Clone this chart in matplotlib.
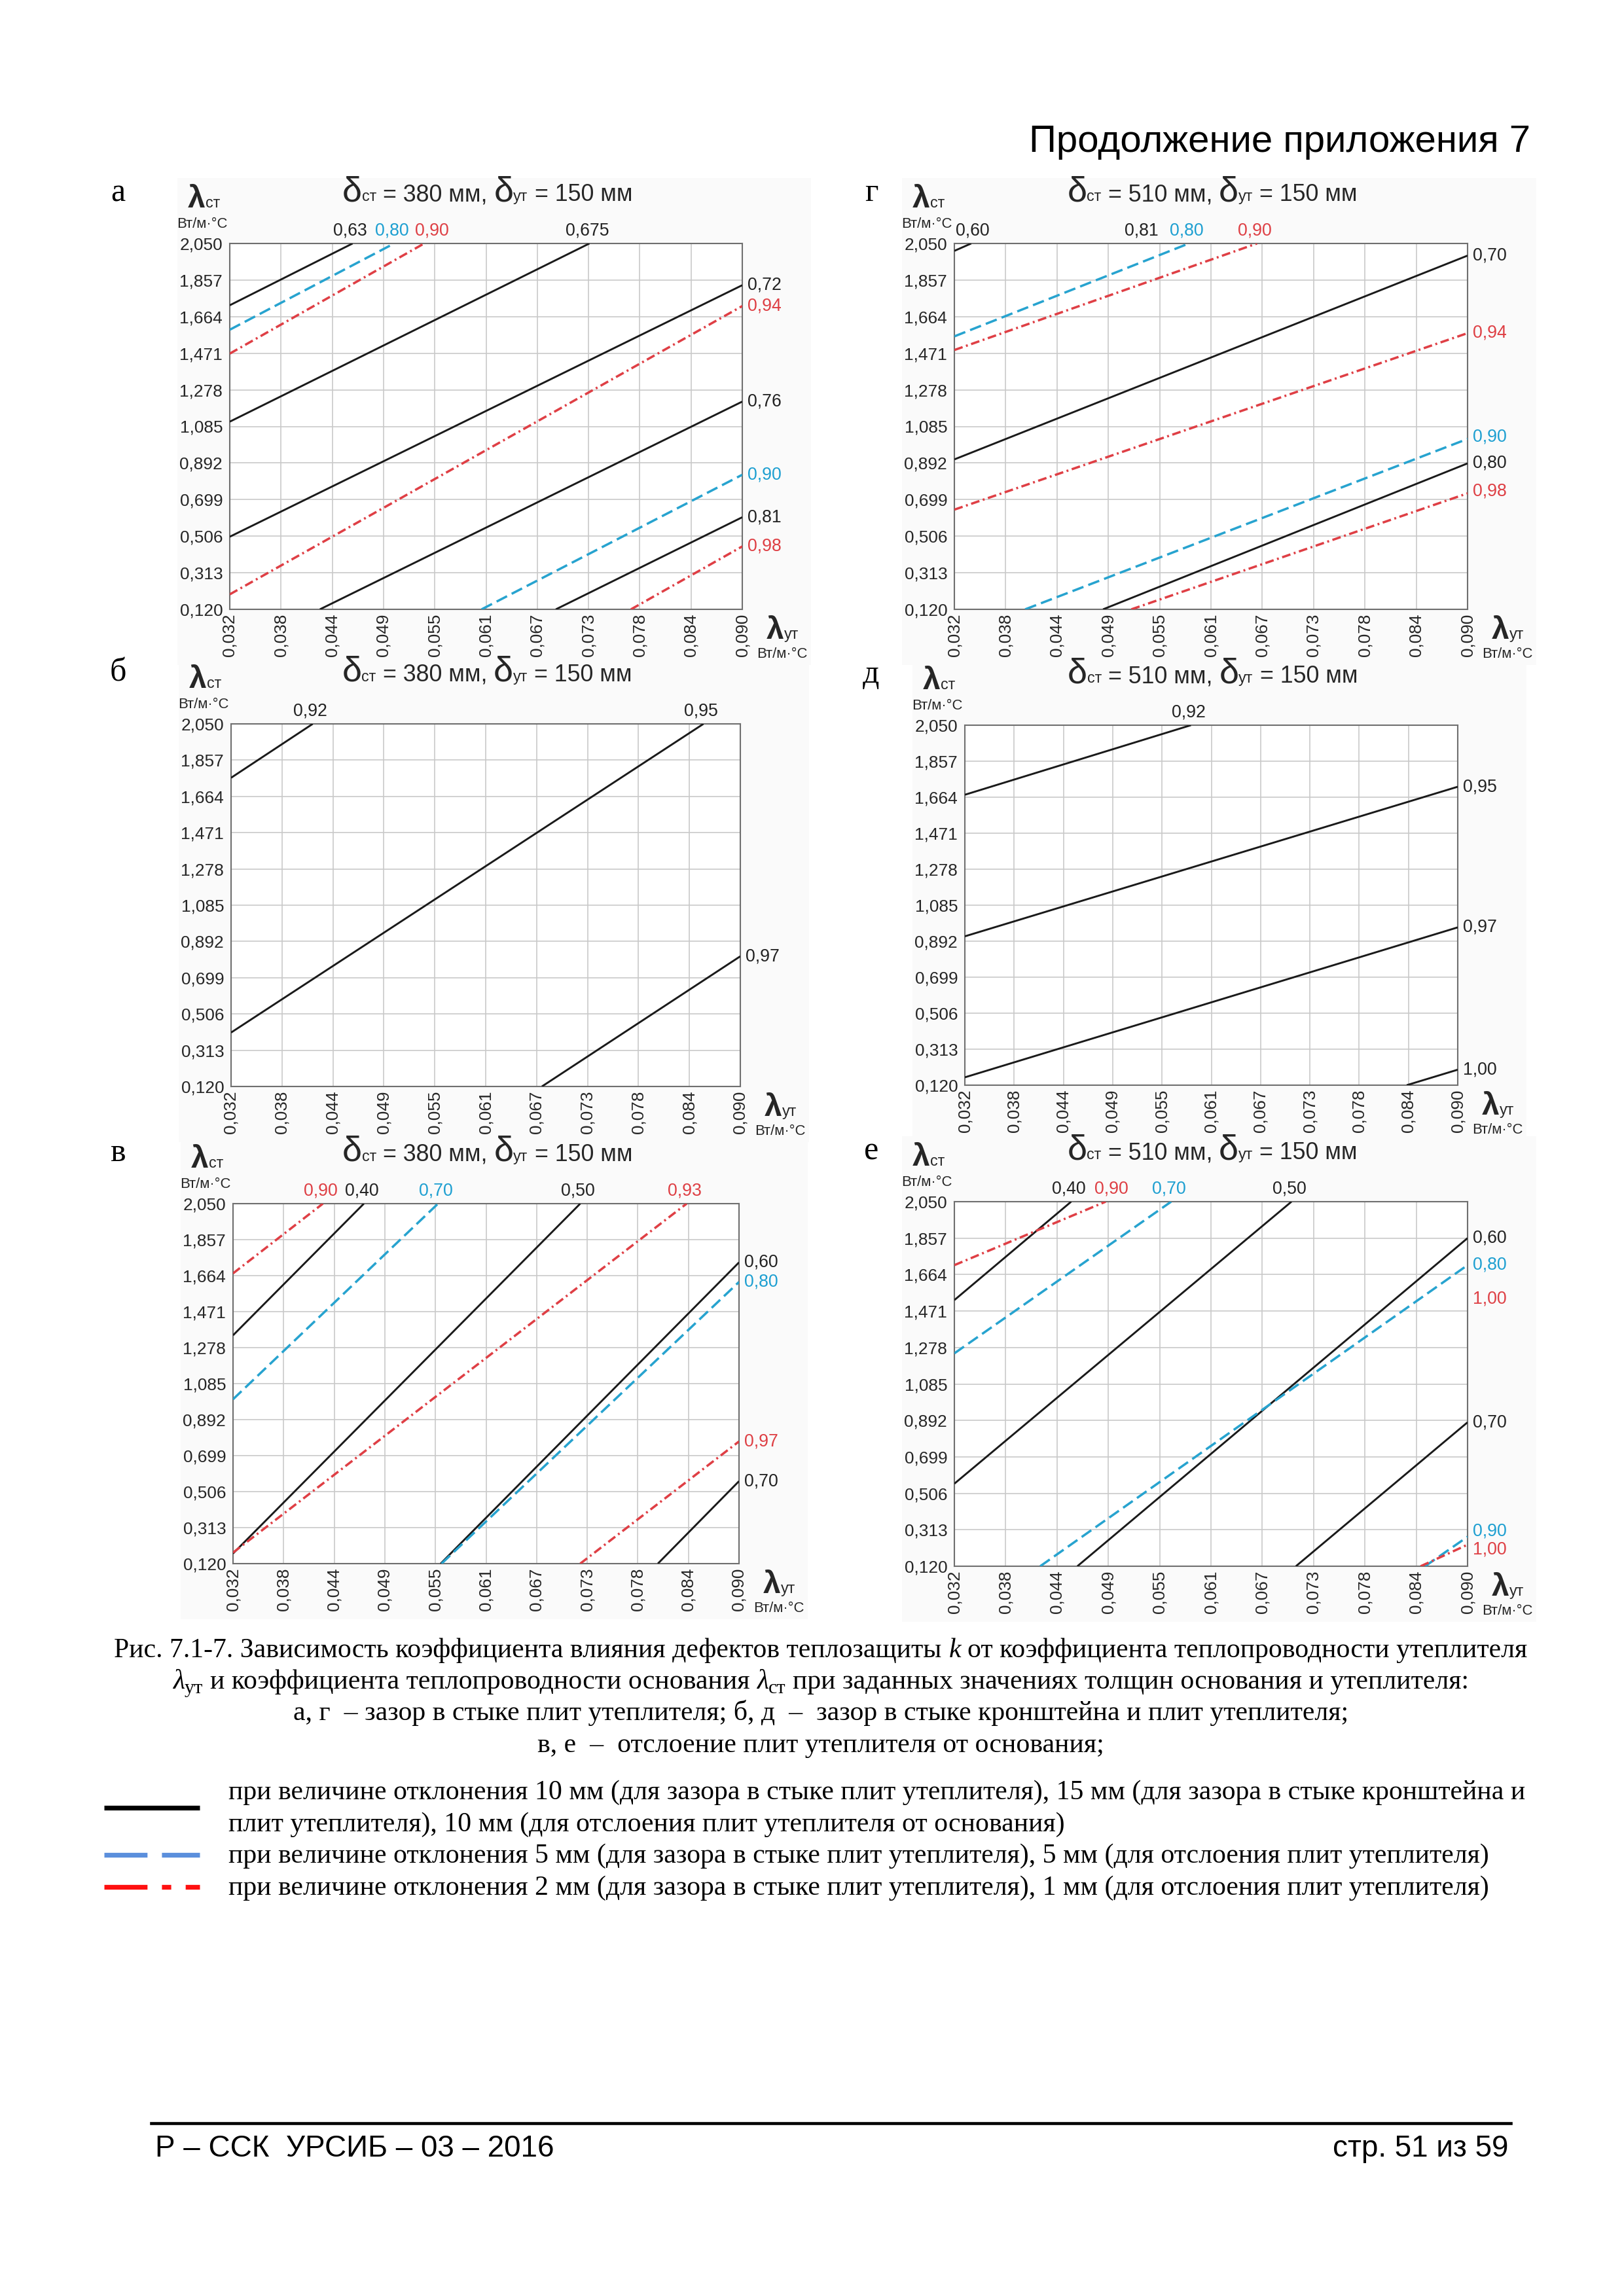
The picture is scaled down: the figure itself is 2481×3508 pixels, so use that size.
import numpy as np
import matplotlib
matplotlib.use('Agg')
import matplotlib.pyplot as plt
from matplotlib.lines import Line2D
from matplotlib.patches import Rectangle

W, H, DPI = 2481, 3508, 300
SANS = 'Liberation Sans'
SERIF = 'Liberation Serif'
plt.rcParams['lines.scale_dashes'] = False

# ---------------- data ----------------
X_TICK_LABELS = ['0,032', '0,038', '0,044', '0,049', '0,055', '0,061',
                 '0,067', '0,073', '0,078', '0,084', '0,090']
Y_TICK_LABELS = ['0,120', '0,313', '0,506', '0,699', '0,892', '1,085',
                 '1,278', '1,471', '1,664', '1,857', '2,050']
X_MIN, X_MAX = 0.032, 0.090
Y_MIN, Y_MAX = 0.120, 2.050

# series codes: 'k' = 10/15 mm, 'b' = 5 mm, 'r' = 2/1 mm
# panel а
A_TEXT = ['0,63', '0,80', '0,90', '0,675', '0,72', '0,94', '0,76', '0,90', '0,81', '0,98']
A_SER = ['k', 'b', 'r', 'k', 'k', 'r', 'k', 'b', 'k', 'r']
A_X0 = [0.032, 0.032, 0.032, 0.032, 0.032, 0.032, 0.0422, 0.0605, 0.0689, 0.0774]
A_Y0 = [1.724, 1.595, 1.469, 1.110, 0.503, 0.199, 0.120, 0.120, 0.120, 0.120]
A_X1 = [0.0459, 0.0506, 0.0540, 0.0727, 0.090, 0.090, 0.090, 0.090, 0.090, 0.090]
A_Y1 = [2.050, 2.050, 2.050, 2.050, 1.830, 1.720, 1.216, 0.830, 0.606, 0.452]
A_EXTRA = []

# panel г
G_TEXT = ['0,60', '0,80', '0,90', '0,70', '0,94', '0,90', '0,80', '0,98']
G_SER = ['k', 'b', 'r', 'k', 'r', 'b', 'k', 'r']
G_X0 = [0.032, 0.032, 0.032, 0.032, 0.032, 0.0400, 0.0488, 0.0520]
G_Y0 = [2.011, 1.560, 1.488, 0.911, 0.646, 0.120, 0.120, 0.120]
G_X1 = [0.0339, 0.0585, 0.0662, 0.090, 0.090, 0.090, 0.090, 0.090]
G_Y1 = [2.050, 2.050, 2.050, 1.986, 1.577, 1.019, 0.890, 0.732]
G_EXTRA = [('0,81', 'k', 'top', 0.0534)]

# panel б
B_TEXT = ['0,92', '0,95', '0,97']
B_SER = ['k', 'k', 'k']
B_X0 = [0.032, 0.032, 0.0674]
B_Y0 = [1.763, 0.407, 0.120]
B_X1 = [0.0413, 0.0858, 0.090]
B_Y1 = [2.050, 2.050, 0.813]
B_EXTRA = []

# panel д
D_TEXT = ['0,92', '0,95', '0,97', '1,00']
D_SER = ['k', 'k', 'k', 'k']
D_X0 = [0.032, 0.032, 0.032, 0.0840]
D_Y0 = [1.677, 0.918, 0.162, 0.120]
D_X1 = [0.0586, 0.090, 0.090, 0.090]
D_Y1 = [2.050, 1.720, 0.966, 0.203]
D_EXTRA = []

# panel в
V_TEXT = ['0,90', '0,40', '0,70', '0,50', '0,93', '0,60', '0,80', '0,97', '0,70']
V_SER = ['r', 'k', 'b', 'k', 'r', 'k', 'b', 'r', 'k']
V_X0 = [0.032, 0.032, 0.032, 0.032, 0.032, 0.0558, 0.0559, 0.0718, 0.0807]
V_Y0 = [1.676, 1.344, 1.001, 0.174, 0.179, 0.120, 0.120, 0.120, 0.120]
V_X1 = [0.0423, 0.0470, 0.0555, 0.0718, 0.0840, 0.090, 0.090, 0.090, 0.090]
V_Y1 = [2.050, 2.050, 2.050, 2.050, 2.050, 1.735, 1.630, 0.775, 0.562]
V_EXTRA = []

# panel е
E_TEXT = ['0,40', '0,90', '0,70', '0,50', '0,60', '0,80', '0,70', '0,90', '1,00']
E_SER = ['k', 'r', 'b', 'k', 'k', 'b', 'k', 'b', 'r']
E_X0 = [0.032, 0.032, 0.032, 0.032, 0.0459, 0.0417, 0.0706, 0.0852, 0.0847]
E_Y0 = [1.529, 1.714, 1.247, 0.557, 0.120, 0.120, 0.120, 0.120, 0.120]
E_X1 = [0.0452, 0.0491, 0.0565, 0.0701, 0.090, 0.090, 0.090, 0.090, 0.090]
E_Y1 = [2.050, 2.050, 2.050, 2.050, 1.857, 1.714, 0.882, 0.276, 0.234]
E_EXTRA = [('1,00', 'r', 'right', 1.537)]

# ---------------- styles / layout ----------------
LINE_STYLE = {
    'k': dict(color='#1a1a1a', lw=0.7, dashes=None),
    'b': dict(color='#27a3cf', lw=0.85, dashes=(4.3, 1.9)),
    'r': dict(color='#df3f45', lw=0.85, dashes=(3.2, 1.3, 0.7, 1.3)),
}
LABEL_COLOR = {'k': '#222222', 'b': '#1d9fd1', 'r': '#de3f44'}

PANELS = [
    dict(letter='а', dst='380', rect=(351, 372, 1134, 931),
         text=A_TEXT, ser=A_SER, x0=A_X0, y0=A_Y0, x1=A_X1, y1=A_Y1, extra=A_EXTRA,
         nudge={2: (3.7, 0)}),
    dict(letter='г', dst='510', rect=(1458, 372, 2242, 931),
         text=G_TEXT, ser=G_SER, x0=G_X0, y0=G_Y0, x1=G_X1, y1=G_Y1, extra=G_EXTRA,
         nudge={0: (1.3, 0), 5: (0, 0.8), 7: (0, 0.8)}),
    dict(letter='б', dst='380', rect=(353, 1106, 1131, 1660),
         text=B_TEXT, ser=B_SER, x0=B_X0, y0=B_Y0, x1=B_X1, y1=B_Y1, extra=B_EXTRA,
         nudge={}),
    dict(letter='д', dst='510', rect=(1474, 1108, 2227, 1658),
         text=D_TEXT, ser=D_SER, x0=D_X0, y0=D_Y0, x1=D_X1, y1=D_Y1, extra=D_EXTRA,
         nudge={}),
    dict(letter='в', dst='380', rect=(356, 1839, 1129, 2389),
         text=V_TEXT, ser=V_SER, x0=V_X0, y0=V_Y0, x1=V_X1, y1=V_Y1, extra=V_EXTRA,
         nudge={}),
    dict(letter='е', dst='510', rect=(1458, 1836, 2242, 2393),
         text=E_TEXT, ser=E_SER, x0=E_X0, y0=E_Y0, x1=E_X1, y1=E_Y1, extra=E_EXTRA,
         nudge={1: (3.0, 0), 7: (0, 2.0), 8: (0, -1.7)}),
]

fig = plt.figure(figsize=(W / DPI, H / DPI), dpi=DPI)
fig.patch.set_facecolor('white')
renderer = fig.canvas.get_renderer()


def fx(x):
    return x / W


def fy(y):
    return 1 - y / H


def tw(s, size, family=SANS, style='normal', weight='normal'):
    a = fig.text(0, 0, '|' + s + '|', fontsize=size, family=family, style=style, weight=weight)
    b = fig.text(0, 0, '||', fontsize=size, family=family, style=style, weight=weight)
    w = a.get_window_extent(renderer).width - b.get_window_extent(renderer).width
    a.remove()
    b.remove()
    return w


def draw_runs(x, y, parts, ha='left'):
    """parts: (text, size, dy_px, family, style, color[, weight]); y = baseline px from top."""
    parts = [p if len(p) == 7 else tuple(p) + ('normal',) for p in parts]
    ws = [tw(p[0], p[1], p[3], p[4], p[6]) for p in parts]
    total = sum(ws)
    cur = x - {'left': 0, 'center': total / 2, 'right': total}[ha]
    for p, w in zip(parts, ws):
        s, size, dy, fam, sty, col, wt = p
        st = s.lstrip(' ')
        lead = len(s) - len(st)
        off = tw(' ' * lead, size, fam, sty, wt) if lead else 0
        if st.strip():
            fig.text(fx(cur + off), fy(y + dy), st, fontsize=size, family=fam,
                     style=sty, weight=wt, color=col, ha='left', va='baseline')
        cur += w
    return total


TICK_FS = 6.3
LAB_FS = 6.4
X_POS = np.linspace(X_MIN, X_MAX, len(X_TICK_LABELS))
Y_POS = np.linspace(Y_MIN, Y_MAX, len(Y_TICK_LABELS))
TXT = '#262626'

for P in PANELS:
    L, T, R, B = P['rect']
    # faint background of the pasted chart image
    fig.add_artist(Rectangle((fx(L - 80), fy(B + 85)), (R - L + 185) / W, (B - T + 185) / H,
                             transform=fig.transFigure, facecolor='#fafafa',
                             edgecolor='none', zorder=-5))
    ax = fig.add_axes([fx(L), fy(B), (R - L) / W, (B - T) / H])
    ax.set_facecolor('white')
    ax.set_xlim(X_MIN, X_MAX)
    ax.set_ylim(Y_MIN, Y_MAX)
    ax.set_xticks(X_POS)
    ax.set_xticklabels(X_TICK_LABELS, rotation=90, fontsize=TICK_FS, family=SANS, color=TXT)
    ax.set_yticks(Y_POS)
    ax.set_yticklabels(Y_TICK_LABELS, fontsize=TICK_FS, family=SANS, color=TXT)
    ax.tick_params(axis='both', length=0)
    ax.tick_params(axis='x', pad=1.6)
    ax.tick_params(axis='y', pad=2.6)
    ax.grid(True, color='#c9c9c9', lw=0.4)
    ax.set_axisbelow(True)
    for sp in ax.spines.values():
        sp.set_color('#6f6f6f')
        sp.set_linewidth(0.5)

    for i, (txt, ser, x0, y0, x1, y1) in enumerate(zip(P['text'], P['ser'], P['x0'],
                                                      P['y0'], P['x1'], P['y1'])):
        st = LINE_STYLE[ser]
        ln, = ax.plot([x0, x1], [y0, y1], color=st['color'], lw=st['lw'],
                      solid_capstyle='butt', dash_capstyle='butt', zorder=3)
        if st['dashes'] is not None:
            ln.set_dashes(st['dashes'])
        dx, dy = P['nudge'].get(i, (0, 0))
        if y1 >= Y_MAX - 1e-9:
            ax.annotate(txt, xy=(x1, Y_MAX), xytext=(-0.8 + dx, 1.6 + dy),
                        textcoords='offset points', ha='center', va='bottom',
                        fontsize=LAB_FS, family=SANS, color=LABEL_COLOR[ser],
                        annotation_clip=False)
        else:
            ax.annotate(txt, xy=(X_MAX, y1), xytext=(1.9 + dx, dy),
                        textcoords='offset points', ha='left', va='center',
                        fontsize=LAB_FS, family=SANS, color=LABEL_COLOR[ser],
                        annotation_clip=False)
    for txt, ser, side, val in P['extra']:
        if side == 'top':
            ax.annotate(txt, xy=(val, Y_MAX), xytext=(-0.8, 1.6), textcoords='offset points',
                        ha='center', va='bottom', fontsize=LAB_FS, family=SANS,
                        color=LABEL_COLOR[ser], annotation_clip=False)
        else:
            ax.annotate(txt, xy=(X_MAX, val), xytext=(1.9, 0), textcoords='offset points',
                        ha='left', va='center', fontsize=LAB_FS, family=SANS,
                        color=LABEL_COLOR[ser], annotation_clip=False)

    # panel letter
    xl = 180 if L < 1000 else 1331
    fig.text(fx(xl), fy(T - 65), P['letter'], fontsize=12, family=SERIF,
             ha='center', va='baseline', color='black')
    # title
    draw_runs((L + R) / 2 + 2, T - 65, [
        ('δ', 13, 0, SANS, 'normal', TXT),
        ('ст', 5.6, 0, SANS, 'normal', TXT),
        (' = ' + P['dst'] + ' мм, ', 8.6, 0, SANS, 'normal', TXT),
        ('δ', 13, 0, SANS, 'normal', TXT),
        ('ут', 5.6, 0, SANS, 'normal', TXT),
        (' = 150 мм', 8.6, 0, SANS, 'normal', TXT),
    ], ha='center')
    # y axis label
    draw_runs(L - 64, T - 55, [('λ', 11.5, 0, SANS, 'normal', TXT, 'bold'),
                               ('ст', 5.6, 0, SANS, 'normal', TXT)])
    draw_runs(L - 42, T - 24, [('Вт/м·°С', 5.3, 0, SANS, 'normal', TXT)], ha='center')
    # x axis label
    draw_runs(R + 37, B + 45, [('λ', 11.5, 0, SANS, 'normal', TXT, 'bold'),
                               ('ут', 5.6, 0, SANS, 'normal', TXT)])
    draw_runs(R + 61, B + 74, [('Вт/м·°С', 5.3, 0, SANS, 'normal', TXT)], ha='center')

# ---------------- header ----------------
HEADER = 'Продолжение приложения 7'
hs = 10 * 766 / tw(HEADER, 10)
fig.text(fx(2338), fy(232), HEADER, fontsize=hs, family=SANS, ha='right', va='baseline')

# ---------------- caption ----------------
CAP1 = [('Рис. 7.1-7. Зависимость коэффициента влияния дефектов теплозащиты ', 'normal'),
        ('k', 'italic'),
        (' от коэффициента теплопроводности утеплителя', 'normal')]
w10 = sum(tw(s, 10, SERIF, st) for s, st in CAP1)
cs = 10 * 2158 / w10
CX = 1254
draw_runs(CX, 2532, [(s, cs, 0, SERIF, st, 'black') for s, st in CAP1], ha='center')
draw_runs(CX, 2580, [
    ('λ', cs, 0, SERIF, 'italic', 'black'),
    ('ут', cs * 0.72, 7, SERIF, 'normal', 'black'),
    (' и коэффициента теплопроводности основания ', cs, 0, SERIF, 'normal', 'black'),
    ('λ', cs, 0, SERIF, 'italic', 'black'),
    ('ст', cs * 0.72, 7, SERIF, 'normal', 'black'),
    (' при заданных значениях толщин основания и утеплителя:', cs, 0, SERIF, 'normal', 'black'),
], ha='center')
draw_runs(CX, 2628, [('а, г  – зазор в стыке плит утеплителя; б, д  –  зазор в стыке кронштейна и плит утеплителя;',
                      cs, 0, SERIF, 'normal', 'black')], ha='center')
draw_runs(CX, 2677, [('в, е  –  отслоение плит утеплителя от основания;', cs, 0, SERIF, 'normal', 'black')],
          ha='center')

# ---------------- legend ----------------
LEG_TEXT = [
    'при величине отклонения 10 мм (для зазора в стыке плит утеплителя), 15 мм (для зазора в стыке кронштейна и',
    'плит утеплителя), 10 мм (для отслоения плит утеплителя от основания)',
    'при величине отклонения 5 мм (для зазора в стыке плит утеплителя), 5 мм (для отслоения плит утеплителя)',
    'при величине отклонения 2 мм (для зазора в стыке плит утеплителя), 1 мм (для отслоения плит утеплителя)',
]
LEG_Y = [2749, 2798, 2846, 2895]
for s, y in zip(LEG_TEXT, LEG_Y):
    fig.text(fx(349), fy(y), s, fontsize=cs, family=SERIF, ha='left', va='baseline')

LEG_SAMPLE = [
    (2762, '#000000', None),
    (2834, '#5b8fdc', (15.8, 5.3)),
    (2883, '#ff1010', (15.8, 5.3, 3.4, 5.3)),
]
for y, col, dsh in LEG_SAMPLE:
    ln = Line2D([fx(159), fx(305)], [fy(y), fy(y)], transform=fig.transFigure,
                color=col, lw=1.75, solid_capstyle='butt', dash_capstyle='butt')
    if dsh is not None:
        ln.set_dashes(dsh)
    fig.add_artist(ln)

# ---------------- footer ----------------
fig.add_artist(Line2D([fx(231), fx(2308)], [fy(3244), fy(3244)], transform=fig.transFigure,
                      color='black', lw=1.1))
FOOT_L = 'Р – ССК  УРСИБ – 03 – 2016'
FOOT_R = 'стр. 51 из 59'
fs = 10 * 609 / tw(FOOT_L, 10)
fig.text(fx(237), fy(3295), FOOT_L, fontsize=fs, family=SANS, ha='left', va='baseline')
fig.text(fx(2304), fy(3295), FOOT_R, fontsize=fs, family=SANS, ha='right', va='baseline')

fig.savefig('out.png', dpi=DPI, facecolor='white')
